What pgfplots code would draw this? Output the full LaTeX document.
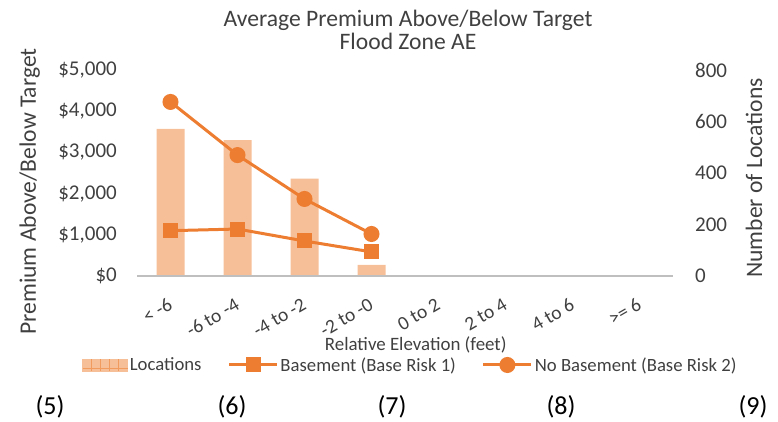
\documentclass[border=0pt]{standalone}
\usepackage{pgfplots}
\pgfplotsset{compat=1.18}
\usepackage{fontspec}
\setmainfont{Carlito}

\definecolor{lineorange}{HTML}{ED7D31}
\definecolor{barfill}{HTML}{F7BF97}
\definecolor{axisgray}{HTML}{BFBFBF}
\definecolor{txt}{HTML}{404040}

\newcommand{\fs}[1]{\fontsize{#1bp}{#1bp}\selectfont}

\begin{document}
\begin{tikzpicture}
\path[use as bounding box] (0bp,0bp) rectangle (778bp,422bp);

% locations (bars) on the right axis
\begin{axis}[
  at={(137bp,146bp)}, anchor=south west,
  width=536bp, height=206bp, scale only axis,
  xmin=-0.5, xmax=7.5, ymin=0, ymax=800,
  hide x axis,
  axis y line*=right,
  y axis line style={draw=none},
  major tick length=0,
  ytick={0,200,400,600,800},
  yticklabels={0,200,400,600,800},
  yticklabel style={font=\fs{21}, text=txt, anchor=west, inner sep=0pt, xshift=22bp},
  ylabel={Number of Locations},
  ylabel style={font=\fs{23.6}, text=txt, at={(axis description cs:1.151,0.476)}, anchor=center},
]
\addplot[ybar, bar width=28bp, fill=barfill, draw=none] coordinates {
  (0,571) (1,528) (2,378) (3,43) (4,0) (5,0) (6,0) (7,0)
};
\end{axis}

% premiums (lines) on the left axis
\begin{axis}[
  at={(137bp,146bp)}, anchor=south west,
  width=536bp, height=206bp, scale only axis,
  xmin=-0.5, xmax=7.5, ymin=0, ymax=5000,
  axis x line*=bottom,
  axis y line*=left,
  y axis line style={draw=none},
  x axis line style={draw=axisgray, line width=1.3bp, -},
  major tick length=0,
  xtick={0,...,7},
  xticklabels={{< -6},{-6 to -4},{-4 to -2},{-2 to -0},{0 to 2},{2 to 4},{4 to 6},{>= 6}},
  xticklabel style={font=\fs{19.5}, text=txt, rotate=30, anchor=east, inner sep=0pt},
  xticklabel shift=27bp,
  ytick={0,1000,2000,3000,4000,5000},
  yticklabels={{\$0},{\$1,000},{\$2,000},{\$3,000},{\$4,000},{\$5,000}},
  yticklabel style={font=\fs{21}, text=txt, anchor=east, inner sep=0pt, xshift=-20bp},
  ylabel={Premium Above/Below Target},
  ylabel style={font=\fs{23.6}, text=txt, at={(axis description cs:-0.2,0.41)}, anchor=center},
  xlabel={Relative Elevation (feet)},
  xlabel style={font=\fs{18.9}, text=txt, at={(axis description cs:0.52,-0.335)}, anchor=center},
  legend style={at={(axis description cs:0.51,-0.432)}, anchor=center, draw=none,
    fill=none, font=\fs{18.7}, text=txt, legend columns=3,
    /tikz/every even column/.append style={column sep=24bp}},
  legend cell align=left,
]
\addlegendimage{legend image code/.code={
  \fill[barfill] (0bp,-6bp) rectangle (45bp,6bp);
  \draw[lineorange!55!barfill, line width=0.6bp] (9bp,-6bp) -- (9bp,6bp) (18bp,-6bp) -- (18bp,6bp)
    (27bp,-6bp) -- (27bp,6bp) (36bp,-6bp) -- (36bp,6bp) (0bp,-3bp) -- (45bp,-3bp);}}
\addlegendentry{Locations}

\addplot[lineorange, line width=3bp, mark=square*, mark size=6bp,
  legend image code/.code={\draw[mark repeat=2, mark phase=2] plot coordinates {(0bp,0bp) (24bp,0bp) (48bp,0bp)};}]
  coordinates {(0,1100) (1,1140) (2,850) (3,585)};
\addlegendentry{Basement (Base Risk 1)}

\addplot[lineorange, line width=3bp, mark=*, mark size=6.5bp,
  legend image code/.code={\draw[mark repeat=2, mark phase=2] plot coordinates {(0bp,0bp) (24bp,0bp) (48bp,0bp)};}]
  coordinates {(0,4225) (1,2935) (2,1870) (3,1020)};
\addlegendentry{No Basement (Base Risk 2)}
\end{axis}

% title
\node[font=\fs{23.6}, text=txt, align=center, inner sep=0pt] at (408bp,392bp)
  {Average Premium Above/Below Target\\Flood Zone AE};

% panel numbers below the chart
\foreach \xx/\lab in {50/5, 232/6, 392/7, 561/8, 753/9}
  \node[font=\fs{26}, text=black, inner sep=0pt] at (\xx bp,15bp) {(\lab)};
\end{tikzpicture}
\end{document}
